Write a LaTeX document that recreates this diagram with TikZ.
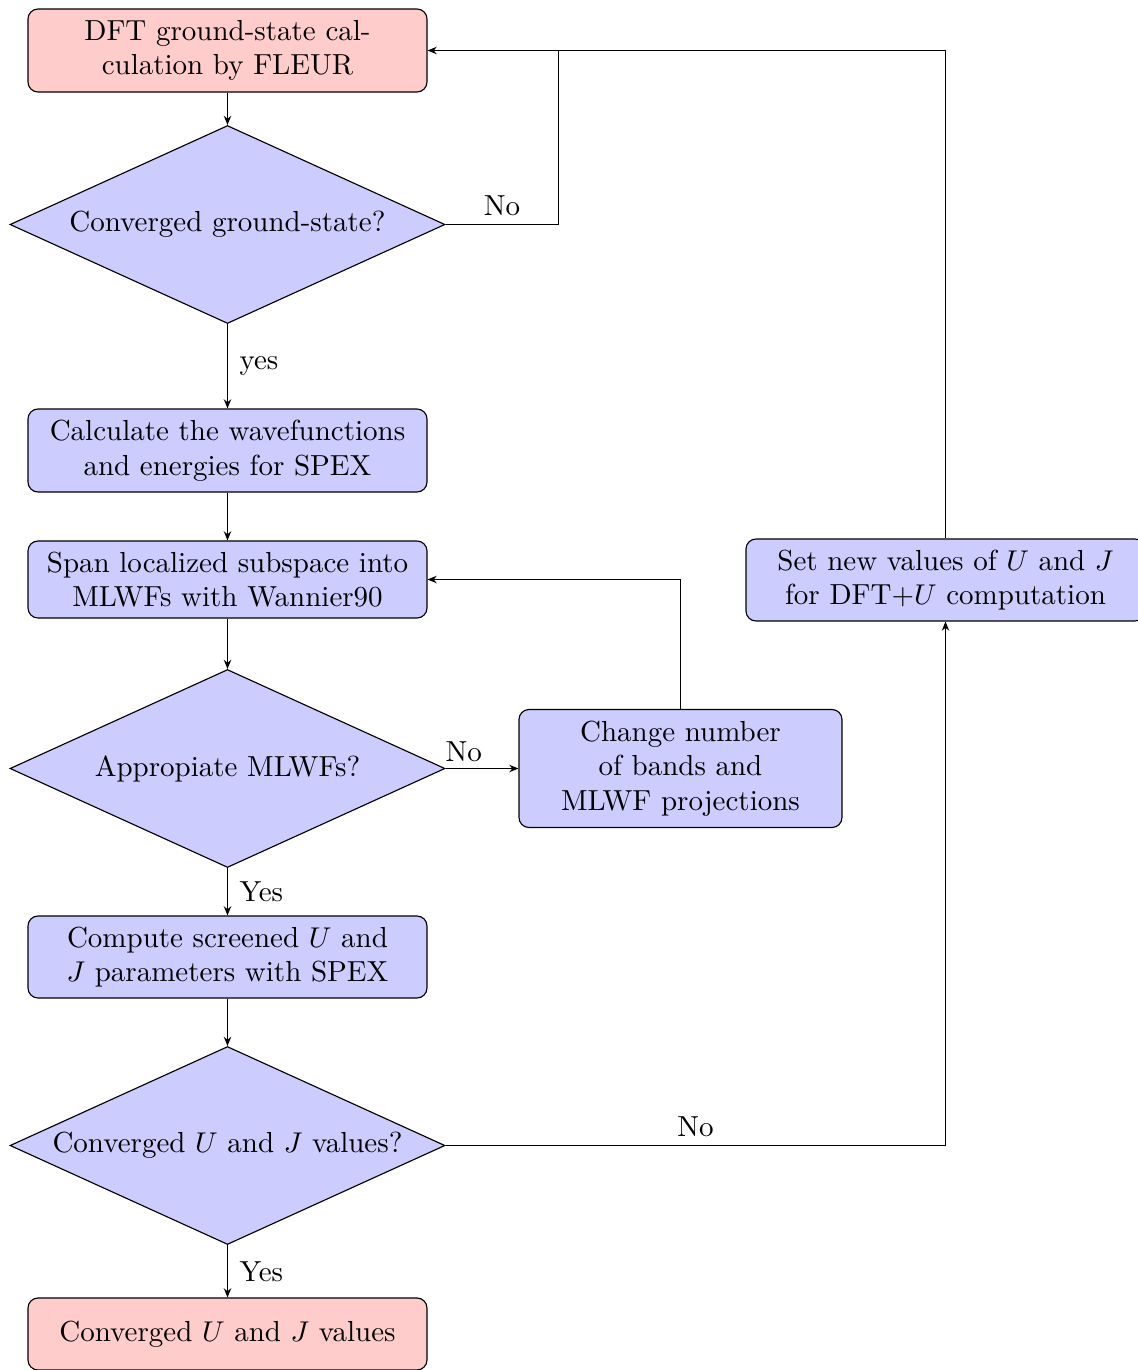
\documentclass[tikz,border=0pt]{standalone}
\usetikzlibrary{shapes.geometric,arrows.meta}
\begin{document}
\begin{tikzpicture}[x=0.35pt,y=-0.35pt,
  every node/.style={font=\fontsize{10.15}{12.1}\selectfont},
  box/.style={draw,rounded corners=3.5pt,fill=blue!20,align=center,inner sep=0pt,minimum width=139.65pt},
  pinkbox/.style={box,fill=red!20},
  decision/.style={draw,diamond,aspect=2.2,fill=blue!20,inner sep=0pt,minimum width=152.25pt,minimum height=69.3pt,align=center},
  conn/.style={draw,-{Stealth[length=3.2pt,width=2.6pt]}},
  lbl/.style={inner sep=0pt}]
\useasboundingbox (0,0) rectangle (1138,1370);
\node[pinkbox,minimum height=29.05pt] (b1) at (227.5,50.5) {DFT ground-state cal-\\culation by FLEUR};
\node[decision] (d1) at (227.5,224.5) {Converged ground-state?};
\node[box,minimum height=29.05pt] (b2) at (227.5,450.5) {Calculate the wavefunctions\\and energies for SPEX};
\node[box,minimum height=26.95pt] (b3) at (227.5,579.5) {Span localized subspace into\\MLWFs with Wannier90};
\node[decision] (d2) at (227.5,768.5) {Appropiate MLWFs?};
\node[box,minimum width=113.05pt,minimum height=41.3pt] (b4) at (680.5,768.5) {Change number\\of bands and\\MLWF projections};
\node[box,minimum height=28.7pt] (b5) at (227.5,957) {Compute screened $U$ and\\$J$ parameters with SPEX};
\node[decision] (d3) at (227.5,1145.5) {Converged $U$ and $J$ values?};
\node[pinkbox,minimum height=25.2pt] (b6) at (227.5,1334) {Converged $U$ and $J$ values};
\node[box,minimum height=28.7pt] (b7) at (945.5,580) {Set new values of $U$ and $J$\\for DFT+$U$ computation};
\coordinate (j1) at (558.5,224.5);
\coordinate (j2) at (558.5,50.5);
\coordinate (c4) at (680.5,579.5);
\coordinate (c7) at (945.5,1145.5);
\coordinate (t7) at (945.5,50.5);
\draw[conn] (b1) -- (d1);
\draw[conn] (d1) -- node[lbl,right,xshift=4pt]{yes} (b2);
\draw[conn] (b2) -- (b3);
\draw[conn] (b3) -- (d2);
\draw[conn] (d2) -- node[lbl,above,yshift=2pt,pos=0.25]{No} (b4);
\draw[conn] (d2) -- node[lbl,right,xshift=4pt]{Yes} (b5);
\draw[conn] (b5) -- (d3);
\draw[conn] (d3) -- node[lbl,right,xshift=4pt]{Yes} (b6);
\draw (d1.east) -- node[lbl,above,yshift=3pt]{No} (j1) -- (j2);
\draw[conn] (b4.north) -- (c4) -- (b3.east);
\draw[conn] (d3.east) -- node[lbl,above,yshift=3pt]{No} (c7) -- (b7.south);
\draw[conn] (b7.north) -- (t7) -- (b1.east);
\end{tikzpicture}
\end{document}
